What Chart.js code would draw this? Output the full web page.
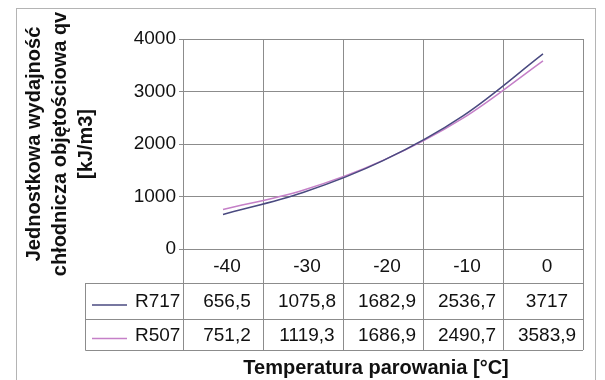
<!DOCTYPE html>
<html>
<head>
<meta charset="utf-8">
<script src="https://cdn.jsdelivr.net/npm/chart.js@4.4.1/dist/chart.umd.min.js"></script>
<style>
  html, body { margin: 0; padding: 0; background: #fff; }
  #wrap { width: 605px; height: 380px; }
</style>
</head>
<body>
<div id="wrap"><canvas id="chart" width="605" height="380"></canvas></div>
<script>
// dane z wykresu
const categories = ['-40', '-30', '-20', '-10', '0'];
const r717 = [656.5, 1075.8, 1682.9, 2536.7, 3717];
const r507 = [751.2, 1119.3, 1686.9, 2490.7, 3583.9];
const seriesNames = ['R717', 'R507'];
const seriesColors = ['#4a4a80', '#c580c8'];
const yTitle = ['Jednostkowa wydajność', 'chłodnicza objętościowa qv', '[kJ/m3]'];
const xTitle = 'Temperatura parowania [°C]';

const FONT = "'Liberation Sans', Arial, sans-serif";
const fmt = v => String(v).replace('.', ',');

// ramka dookoła + tabela danych pod wykresem
const tablePlugin = {
    id: 'dataTable',
    beforeDraw(chart) {
        const c = chart.ctx;
        c.save();
        c.strokeStyle = '#b4b4b4';
        c.lineWidth = 1;
        c.strokeRect(16.5, 8.5, 579, 400);
        c.restore();
    },
    afterDraw(chart) {
        const c = chart.ctx;
        const x = chart.scales.x;
        const area = chart.chartArea;
        const half = (x.getPixelForValue(1) - x.getPixelForValue(0)) / 2;
        const rows = [area.bottom, area.bottom + 34, area.bottom + 70, area.bottom + 101];
        const tableLeft = 85.5;

        c.save();
        c.strokeStyle = '#8c8c8c';
        c.lineWidth = 1;
        c.beginPath();
        for (let r = 1; r < rows.length; r++) {
            c.moveTo(tableLeft, Math.round(rows[r]) + 0.5);
            c.lineTo(area.right, Math.round(rows[r]) + 0.5);
        }
        c.moveTo(tableLeft, rows[1]);
        c.lineTo(tableLeft, rows[3] + 0.5);
        for (let i = 0; i <= categories.length; i++) {
            const px = Math.round(x.getPixelForValue(i) - half) + 0.5;
            c.moveTo(px, rows[0]);
            c.lineTo(px, rows[3]);
        }
        c.stroke();

        c.fillStyle = '#111';
        c.font = '19px ' + FONT;
        c.textBaseline = 'middle';
        c.textAlign = 'center';
        categories.forEach((lab, i) => {
            c.fillText(lab, x.getPixelForValue(i) + 4, (rows[0] + rows[1]) / 2 + 1);
        });
        [r717, r507].forEach((vals, s) => {
            const cy = (rows[s + 1] + rows[s + 2]) / 2 + 1;
            c.textAlign = 'center';
            vals.forEach((v, i) => c.fillText(fmt(v), x.getPixelForValue(i) + 4, cy));
            c.textAlign = 'left';
            c.fillText(seriesNames[s], 135, cy);
            c.strokeStyle = seriesColors[s];
            c.lineWidth = 1.5;
            c.beginPath();
            c.moveTo(92, cy + 3);
            c.lineTo(127, cy + 3);
            c.stroke();
        });

        c.font = 'bold 20px ' + FONT;
        c.textAlign = 'center';
        c.textBaseline = 'alphabetic';
        c.fillText(xTitle, (area.left + area.right) / 2 - 7, 374);
        c.restore();
    }
};

new Chart(document.getElementById('chart'), {
    type: 'line',
    data: {
        labels: categories,
        datasets: [
            { label: seriesNames[0], data: r717, borderColor: seriesColors[0], borderWidth: 1.5, pointRadius: 0, tension: 0.35 },
            { label: seriesNames[1], data: r507, borderColor: seriesColors[1], borderWidth: 1.5, pointRadius: 0, tension: 0.35 }
        ]
    },
    options: {
        responsive: false,
        animation: false,
        devicePixelRatio: 1,
        layout: { padding: { left: 20, top: 39, right: 22, bottom: 0 } },
        plugins: { legend: { display: false }, tooltip: { enabled: false } },
        scales: {
            x: {
                offset: true,
                grid: { offset: true, color: '#8c8c8c', drawTicks: false },
                border: { color: '#8c8c8c' },
                ticks: { display: false },
                afterFit(scale) { scale.height = 131; }
            },
            y: {
                min: 0,
                max: 4000,
                ticks: { stepSize: 1000, color: '#111', padding: 3, font: { family: FONT, size: 19 }, callback: v => String(v) },
                grid: { color: '#8c8c8c', tickLength: 4 },
                border: { color: '#8c8c8c' },
                title: {
                    display: true,
                    text: yTitle,
                    color: '#111',
                    padding: { top: 1, bottom: 0 },
                    font: { family: FONT, size: 20, weight: 'bold', lineHeight: '26px' }
                },
                afterFit(scale) { scale.width = 163; }
            }
        }
    },
    plugins: [tablePlugin]
});
</script>
</body>
</html>
